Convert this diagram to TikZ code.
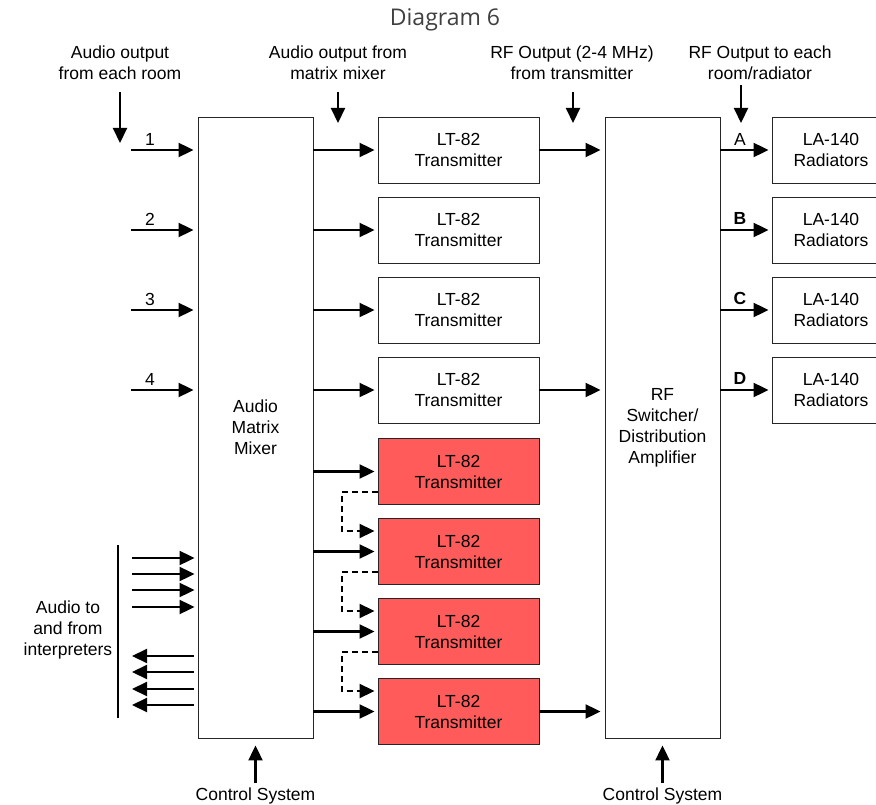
\documentclass[tikz,border=0pt]{standalone}
\usepackage{fontspec}
\setmainfont{Liberation Sans}
\newfontfamily\titlefont{Open Sans}
\usetikzlibrary{arrows.meta}
\definecolor{txred}{HTML}{FF5B5B}
\begin{document}
\begin{tikzpicture}[x=1pt,y=-1pt,
  txt/.style={font=\fontsize{17.5}{21}\selectfont, align=center, inner sep=0pt},
  box/.style={draw=black!85, line width=0.9pt, fill=white, align=center, inner sep=0pt,
              font=\fontsize{17.5}{21}\selectfont},
  txbox/.style={box, minimum width=161pt, minimum height=66pt},
  redbox/.style={txbox, fill=txred},
  tallbox/.style={box, minimum width=115pt, minimum height=621pt},
  labox/.style={box, minimum width=118pt, minimum height=66pt},
  arr/.style={-{Triangle[length=15pt,width=14pt]}, line width=2.1pt},
  darr/.style={arr, dash pattern=on 6pt off 4pt, line width=1.9pt},
  ]
\useasboundingbox (0,0) rectangle (876,805);

\node[font=\titlefont\fontsize{23}{26}\selectfont, text=black!75] (title) at (445,20) {Diagram 6};

% main blocks
\node[tallbox] (mix) at (255.5,427.5) {Audio\\Matrix\\Mixer};
\node[tallbox] (rf) at (662.5,427.5) {RF\\Switcher/\\Distribution\\Amplifier};

\node[txbox] (tx1) at (458.5,150) {LT-82\\Transmitter};
\node[txbox] (tx2) at (458.5,230) {LT-82\\Transmitter};
\node[txbox] (tx3) at (458.5,310) {LT-82\\Transmitter};
\node[txbox] (tx4) at (458.5,390) {LT-82\\Transmitter};
\node[redbox] (r1) at (458.5,471.5) {LT-82\\Transmitter};
\node[redbox] (r2) at (458.5,551.5) {LT-82\\Transmitter};
\node[redbox] (r3) at (458.5,631.5) {LT-82\\Transmitter};
\node[redbox] (r4) at (458.5,711.5) {LT-82\\Transmitter};

\node[labox] (la1) at (831,150) {LA-140\\Radiators};
\node[labox] (la2) at (831,230) {LA-140\\Radiators};
\node[labox] (la3) at (831,310) {LA-140\\Radiators};
\node[labox] (la4) at (831,390) {LA-140\\Radiators};

% top labels and arrows
\node[txt] (l1) at (120,63) {Audio output\\from each room};
\node[txt] (l2) at (338,63) {Audio output from\\matrix mixer};
\node[txt] (l3) at (572,63) {RF Output (2-4 MHz)\\from transmitter};
\node[txt] (l4) at (760,63) {RF Output to each\\room/radiator};
\coordinate (d1a) at (120,92); \coordinate (d1b) at (120,143);
\coordinate (d2a) at (338,92); \coordinate (d2b) at (338,123);
\coordinate (d3a) at (573,92); \coordinate (d3b) at (573,123);
\coordinate (d4a) at (741,85); \coordinate (d4b) at (741,123);
\draw[arr] (d1a) -- (d1b);
\draw[arr] (d2a) -- (d2b);
\draw[arr] (d3a) -- (d3b);
\draw[arr] (d4a) -- (d4b);

% inputs 1-4
\foreach \i/\y in {1/150,2/230,3/310,4/390}{
  \coordinate (in\i) at (131,\y);
  \draw[arr] (in\i) -- ([xshift=-4pt]in\i -| mix.west);
  \node[txt] (n\i) at (150,\y-11) {\i};
}

% mixer to transmitters
\foreach \t in {tx1,tx2,tx3,tx4,r1,r2,r3,r4}{
  \draw[arr] (mix.east |- \t.west) -- ([xshift=-3pt]\t.west);
}

% dashed links between red transmitters
\draw[darr] ([yshift=-20.5pt]r1.west) -- ++(-36,0) |- ([xshift=-3pt,yshift=20.5pt]r2.west);
\draw[darr] ([yshift=-20.5pt]r2.west) -- ++(-36,0) |- ([xshift=-3pt,yshift=20.5pt]r3.west);
\draw[darr] ([yshift=-20.5pt]r3.west) -- ++(-36,0) |- ([xshift=-3pt,yshift=20.5pt]r4.west);

% transmitters to RF
\draw[arr] (tx1.east) -- ([xshift=-4pt]tx1.east -| rf.west);
\draw[arr] (tx4.east) -- ([xshift=-4pt]tx4.east -| rf.west);
\draw[arr] (r4.east) -- ([xshift=-4pt]r4.east -| rf.west);

% RF to radiators
\foreach \t in {la1,la2,la3,la4}{
  \draw[arr] (rf.east |- \t.west) -- ([xshift=-3pt]\t.west);
}
\node[txt] (la) at (740,139) {A};
\node[txt,font=\bfseries\fontsize{17.5}{21}\selectfont] (lb) at (740,218) {B};
\node[txt,font=\bfseries\fontsize{17.5}{21}\selectfont] (lc) at (740,298) {C};
\node[txt,font=\bfseries\fontsize{17.5}{21}\selectfont] (ld) at (740,378) {D};

% interpreters
\coordinate (it) at (118,545); \coordinate (ib) at (118,718);
\draw[line width=2.1pt] (it) -- (ib);
\foreach \y in {558,574,590,607}{
  \coordinate (ri\y) at (132,\y);
  \draw[arr] (ri\y) -- ([xshift=-3pt]ri\y -| mix.west);
}
\foreach \y in {656,672,689,705}{
  \coordinate (li\y) at (132,\y);
  \draw[arr] ([xshift=-4pt]li\y -| mix.west) -- (li\y);
}
\node[txt] (interp) at (68,630) {Audio to\\and from\\interpreters};

% control system
\coordinate (c1) at (255.5,783);
\coordinate (c2) at (662.5,783);
\draw[arr] (c1) -- ([yshift=-7pt]mix.south);
\draw[arr] (c2) -- ([yshift=-7pt]rf.south);
\node[txt] (cs1) at (255.5,796) {Control System};
\node[txt] (cs2) at (662.5,796) {Control System};
\end{tikzpicture}
\end{document}
